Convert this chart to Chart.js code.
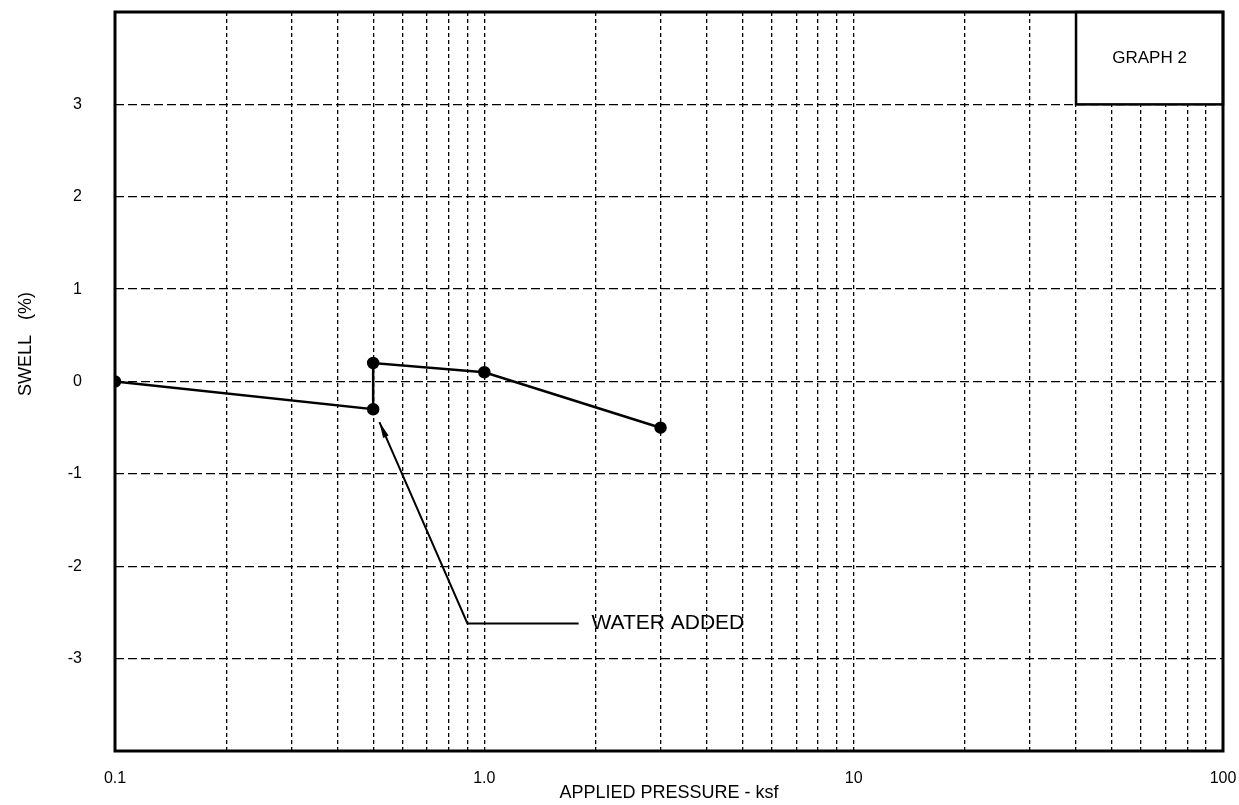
<!DOCTYPE html>
<html>
<head>
<meta charset="utf-8">
<script src="https://cdn.jsdelivr.net/npm/chart.js@4.4.0/dist/chart.umd.min.js"></script>
<style>
  html, body { margin: 0; padding: 0; background: #fff; }
</style>
</head>
<body>
<canvas id="swellChart" width="1239" height="805"></canvas>
<script>
// swell test, one consolidation curve
const pressure = [0.1, 0.5, 0.5, 1.0, 3.0];
const swell = [0, -0.3, 0.2, 0.1, -0.5];

// "WATER ADDED" leader line, ends in an arrow at the last point
const leaderPressure = [1.8, 0.9, 0.52];
const leaderSwell = [-2.62, -2.62, -0.44];
const leaderText = 'WATER ADDED';
const leaderTextAt = [1.95, -2.62];

// log grid: every 1..9 multiple of each decade
const xDecades = [0.1, 1, 10];
const xMultiples = [1, 2, 3, 4, 5, 6, 7, 8, 9];
const xTickLabels = { 0.1: '0.1', 1: '1.0', 10: '10', 100: '100' };
const yTicks = [-3, -2, -1, 0, 1, 2, 3];

const boxPressure = [40, 100];
const boxSwell = [3, 4];
const boxText = 'GRAPH 2';

const FONT = '"Liberation Sans", Arial, sans-serif';
const xGrid = xDecades
  .flatMap((d) => xMultiples.map((m) => Number((d * m).toPrecision(3))))
  .concat([100]);

const toPts = (xs, ys) => xs.map((x, i) => ({ x, y: ys[i] }));

const extras = {
  id: 'extras',
  afterDatasetsDraw(chart) {
    const { ctx, chartArea: a, scales: { x, y } } = chart;
    ctx.save();

    // GRAPH 2 box, hides the grid under it
    const bx1 = x.getPixelForValue(boxPressure[0]),
      bx2 = x.getPixelForValue(boxPressure[1]),
      by1 = y.getPixelForValue(boxSwell[1]),
      by2 = y.getPixelForValue(boxSwell[0]);
    ctx.fillStyle = '#fff';
    ctx.fillRect(bx1, by1, bx2 - bx1, by2 - by1);
    ctx.strokeStyle = '#000';
    ctx.lineWidth = 2.5;
    ctx.strokeRect(bx1, by1, bx2 - bx1, by2 - by1);
    ctx.fillStyle = '#000';
    ctx.font = `17px ${FONT}`;
    ctx.textAlign = 'center';
    ctx.textBaseline = 'middle';
    ctx.fillText(boxText, (bx1 + bx2) / 2, (by1 + by2) / 2);

    // arrow head on the leader
    const n = leaderPressure.length;
    const tx = x.getPixelForValue(leaderPressure[n - 1]),
      ty = y.getPixelForValue(leaderSwell[n - 1]),
      fx = x.getPixelForValue(leaderPressure[n - 2]),
      fy = y.getPixelForValue(leaderSwell[n - 2]);
    const ang = Math.atan2(ty - fy, tx - fx);
    const len = 16, half = 3;
    ctx.beginPath();
    ctx.moveTo(tx, ty);
    ctx.lineTo(tx - len * Math.cos(ang) + half * Math.sin(ang), ty - len * Math.sin(ang) - half * Math.cos(ang));
    ctx.lineTo(tx - len * Math.cos(ang) - half * Math.sin(ang), ty - len * Math.sin(ang) + half * Math.cos(ang));
    ctx.closePath();
    ctx.fill();

    ctx.font = `21px ${FONT}`;
    ctx.textAlign = 'left';
    ctx.fillText(leaderText, x.getPixelForValue(leaderTextAt[0]), y.getPixelForValue(leaderTextAt[1]));

    // heavy frame
    ctx.lineWidth = 3;
    ctx.strokeRect(a.left, a.top, a.right - a.left, a.bottom - a.top);
    ctx.restore();
  },
};

new Chart(document.getElementById('swellChart'), {
  type: 'line',
  data: {
    datasets: [
      {
        data: toPts(pressure, swell),
        borderColor: '#000',
        borderWidth: 2.5,
        pointRadius: 5,
        pointBackgroundColor: '#000',
        pointBorderColor: '#000',
        tension: 0,
      },
      {
        data: toPts(leaderPressure, leaderSwell),
        borderColor: '#000',
        borderWidth: 2,
        pointRadius: 0,
        tension: 0,
      },
    ],
  },
  options: {
    responsive: false,
    animation: false,
    layout: { padding: { top: 12, right: 16, left: 4, bottom: 1 } },
    plugins: { legend: { display: false }, tooltip: { enabled: false } },
    scales: {
      x: {
        type: 'logarithmic',
        min: 0.1,
        max: 100,
        afterBuildTicks: (s) => (s.ticks = xGrid.map((value) => ({ value }))),
        afterFit: (s) => {
          s.height = 53;
          s.paddingLeft = s.paddingRight = 0;
        },
        grid: { color: '#000', lineWidth: 1.3, drawTicks: false },
        border: { display: false, dash: [4, 3] },
        ticks: {
          color: '#000',
          font: { family: FONT, size: 16 },
          padding: 18,
          autoSkip: false,
          maxRotation: 0,
          callback: (v) => xTickLabels[v] || '',
        },
        title: {
          display: true,
          text: 'APPLIED PRESSURE - ksf',
          color: '#000',
          font: { family: FONT, size: 18 },
          padding: { top: 0, bottom: 0 },
        },
      },
      y: {
        min: -4,
        max: 4,
        afterBuildTicks: (s) => (s.ticks = yTicks.map((value) => ({ value }))),
        afterFit: (s) => {
          s.width = 111;
          s.paddingTop = s.paddingBottom = 0;
        },
        grid: { color: '#000', lineWidth: 1.3, drawTicks: false },
        border: { display: false, dash: [9, 4] },
        ticks: {
          color: '#000',
          font: { family: FONT, size: 16 },
          padding: 33,
          callback: (v) => String(v),
        },
        title: {
          display: true,
          text: ' '.repeat(15) + 'SWELL   (%)',
          color: '#000',
          font: { family: FONT, size: 18 },
          padding: { top: 11, bottom: 0 },
        },
      },
    },
  },
  plugins: [extras],
});
</script>
</body>
</html>
